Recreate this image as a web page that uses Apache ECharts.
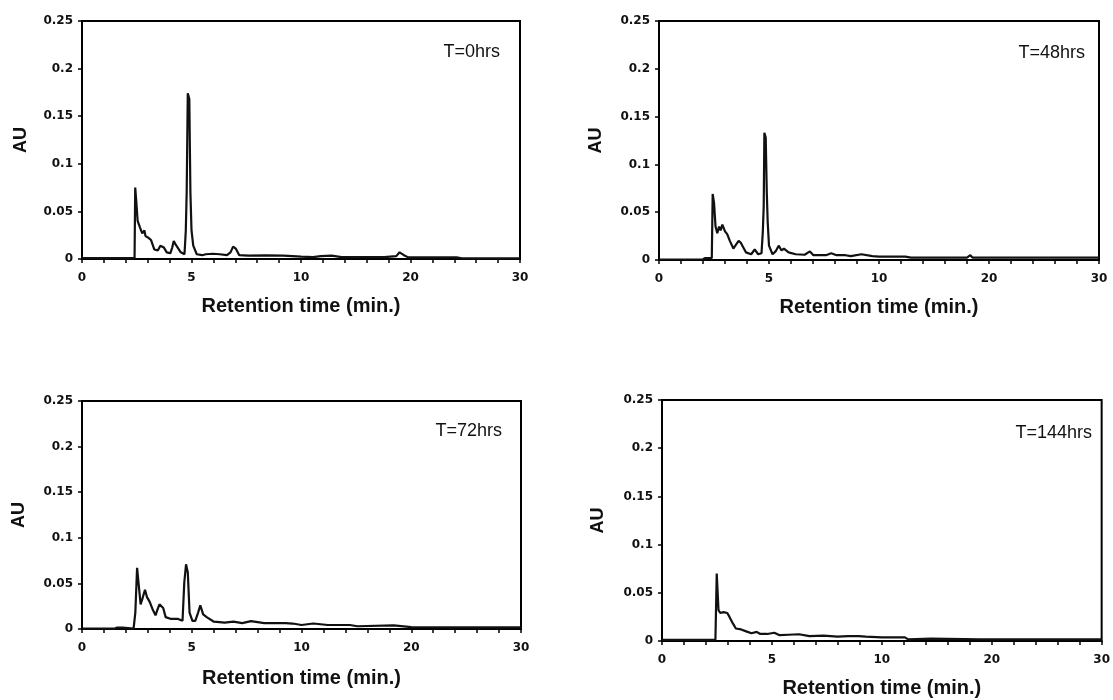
<!DOCTYPE html>
<html>
<head>
<meta charset="utf-8">
<script src="https://cdn.jsdelivr.net/npm/echarts@6/dist/echarts.min.js"></script>
<style>
html,body{margin:0;padding:0;background:#fff;}
#chart{width:1113px;height:700px;}
</style>
</head>
<body>
<div id="chart"></div>
<script>
// Panel labels
const panelLabels = ['T=0hrs', 'T=48hrs', 'T=72hrs', 'T=144hrs'];
// X tick labels (minutes) and Y tick values
const xTickLabels = [0, 5, 10, 20, 30];
const yTicks = [0, 0.05, 0.1, 0.15, 0.2, 0.25];
const xTitle = 'Retention time (min.)';
const yTitle = 'AU';

// Traces: [retention time (min), absorbance (AU)]
const trace0hrs = [[0,0.001],[1,0.001],[2,0.001],[2.40,0.001],[2.43,0.075],[2.48,0.06],[2.54,0.04],[2.6,0.038],[2.65,0.033],[2.75,0.027],[2.85,0.03],[2.9,0.024],[2.97,0.026],[3.05,0.022],[3.15,0.02],[3.3,0.010],[3.46,0.009],[3.58,0.014],[3.74,0.012],[3.87,0.007],[4.03,0.006],[4.12,0.012],[4.19,0.019],[4.28,0.015],[4.35,0.014],[4.51,0.007],[4.68,0.005],[4.74,0.03],[4.78,0.07],[4.83,0.174],[4.9,0.168],[4.95,0.07],[5.0,0.03],[5.08,0.014],[5.24,0.005],[5.49,0.004],[5.65,0.005],[5.97,0.0055],[6.29,0.005],[6.62,0.004],[6.78,0.007],[6.9,0.013],[7.02,0.011],[7.18,0.004],[7.59,0.0035],[8.4,0.0038],[9.2,0.0035],[10,0.0025],[11.1,0.002],[11.8,0.003],[12.8,0.0035],[13.7,0.002],[15,0.002],[17.6,0.002],[18.7,0.003],[19.0,0.007],[19.4,0.004],[19.8,0.0017],[21.4,0.0017],[24.2,0.0017],[24.7,0.0007],[30,0.0007]];
const trace48hrs = [[0,0.0005],[2.0,0.0008],[2.1,0.002],[2.4,0.002],[2.44,0.069],[2.5,0.06],[2.57,0.035],[2.65,0.028],[2.73,0.035],[2.8,0.031],[2.88,0.037],[3.0,0.030],[3.1,0.027],[3.22,0.020],[3.38,0.012],[3.5,0.016],[3.62,0.020],[3.72,0.018],[3.79,0.015],[3.95,0.008],[4.19,0.006],[4.35,0.011],[4.51,0.006],[4.66,0.007],[4.72,0.03],[4.76,0.056],[4.79,0.133],[4.85,0.128],[4.9,0.07],[4.94,0.04],[5.0,0.015],[5.16,0.006],[5.3,0.009],[5.44,0.015],[5.57,0.010],[5.68,0.012],[5.89,0.008],[6.21,0.006],[6.62,0.0055],[6.86,0.009],[7.02,0.005],[7.59,0.005],[7.83,0.007],[8.07,0.005],[8.48,0.005],[8.72,0.004],[9.2,0.006],[9.7,0.004],[10,0.0035],[12.4,0.0035],[12.9,0.0025],[18.0,0.0025],[18.3,0.005],[18.5,0.0025],[30,0.0025]];
const trace72hrs = [[0,0.0005],[1.5,0.0005],[1.6,0.0015],[1.85,0.0015],[1.9,0.0005],[2.35,0.0005],[2.43,0.018],[2.51,0.067],[2.59,0.047],[2.67,0.027],[2.75,0.033],[2.87,0.043],[2.96,0.035],[3.08,0.030],[3.21,0.022],[3.35,0.015],[3.45,0.022],[3.53,0.027],[3.7,0.023],[3.81,0.013],[4.06,0.011],[4.38,0.011],[4.46,0.012],[4.58,0.009],[4.66,0.051],[4.74,0.071],[4.82,0.062],[4.9,0.018],[5.03,0.009],[5.16,0.009],[5.29,0.018],[5.39,0.026],[5.52,0.016],[5.68,0.013],[6.01,0.008],[6.5,0.007],[6.9,0.008],[7.3,0.0065],[7.7,0.0087],[8.3,0.0065],[8.8,0.0065],[9.27,0.0065],[9.6,0.006],[10,0.0044],[11.07,0.006],[12.4,0.0044],[14.4,0.0044],[15.1,0.003],[18.4,0.004],[20,0.002],[25,0.0018],[30,0.0018]];
const trace144hrs = [[0,0.0012],[2.43,0.0012],[2.49,0.070],[2.57,0.032],[2.65,0.029],[2.72,0.030],[2.8,0.030],[2.88,0.032],[2.97,0.029],[3.07,0.025],[3.15,0.026],[3.23,0.018],[3.36,0.013],[3.6,0.012],[3.83,0.010],[4.07,0.008],[4.31,0.0095],[4.47,0.0073],[4.79,0.0073],[5.11,0.0086],[5.35,0.006],[5.75,0.0065],[6.23,0.007],[6.71,0.005],[7.35,0.0055],[7.99,0.0045],[8.47,0.005],[8.95,0.005],[9.27,0.0045],[10,0.0038],[12.1,0.0038],[12.4,0.0017],[14.5,0.0025],[18.9,0.0017],[30,0.0017]];

const traces = [trace0hrs, trace48hrs, trace72hrs, trace144hrs];

// Broken time scale: 0-10 min linear, 10-30 min compressed by half
function toAxis(t){ return t <= 10 ? t : 10 + (t - 10) / 2; }
function fromAxis(v){ return v <= 10 ? v : 10 + (v - 10) * 2; }

const layout = [
  {left: 82, top: 21, width: 438, height: 238, tRight: 608, tTop: 38, yGap: 52, xGap: 37},
  {left: 659, top: 21, width: 440, height: 239, tRight: 23, tTop: 39, yGap: 54, xGap: 37},
  {left: 82, top: 401, width: 439, height: 228, tRight: 606, tTop: 417, yGap: 54, xGap: 39},
  {left: 662, top: 400, width: 441, height: 241, tRight: 16, tTop: 419, yGap: 55, xGap: 37}
];

const tickFont = {fontFamily: 'DejaVu Sans', fontWeight: 'bold', fontSize: 12, color: '#111'};
const grids = [], xAxes = [], yAxes = [], series = [], titles = [];
const xMaxAxis = toAxis(xTickLabels[xTickLabels.length - 1]);

layout.forEach((L, i) => {
  grids.push({left: L.left, top: L.top, width: L.width, height: L.height, show: true, borderColor: '#000', borderWidth: 2, backgroundColor: '#fff'});
  xAxes.push({
    type: 'value', gridIndex: i, min: 0, max: xMaxAxis, interval: 1,
    name: xTitle, nameLocation: 'middle', nameGap: L.xGap,
    nameTextStyle: {fontFamily: 'Liberation Sans', fontWeight: 'bold', fontSize: 20, color: '#111'},
    axisLine: {show: true, onZero: false, lineStyle: {color: '#000', width: 2}},
    axisTick: {show: true, inside: false, length: 4, lineStyle: {color: '#000', width: 1.5}},
    axisLabel: Object.assign({margin: 13, interval: 0, formatter: v => {
      const m = fromAxis(v);
      return xTickLabels.indexOf(m) >= 0 && (v % 5 === 0) ? String(m) : '';
    }}, tickFont),
    splitLine: {show: false}
  });
  yAxes.push({
    type: 'value', gridIndex: i, min: yTicks[0], max: yTicks[yTicks.length - 1], interval: 0.05,
    name: yTitle, nameLocation: 'middle', nameGap: L.yGap, nameRotate: 90,
    nameTextStyle: {fontFamily: 'Liberation Sans', fontWeight: 'bold', fontSize: 18, color: '#111'},
    axisLine: {show: true, lineStyle: {color: '#000', width: 2}},
    axisTick: {show: true, inside: false, length: 4, lineStyle: {color: '#000', width: 1.5}},
    axisLabel: Object.assign({margin: 9, formatter: v => String(+v.toFixed(2))}, tickFont),
    splitLine: {show: false}
  });
  series.push({
    type: 'line', xAxisIndex: i, yAxisIndex: i, showSymbol: false, symbol: 'none',
    lineStyle: {color: '#111', width: 2.2}, animation: false,
    data: traces[i].map(p => [toAxis(p[0]), p[1]])
  });
  titles.push({text: panelLabels[i], right: L.tRight, top: L.tTop,
    textStyle: {fontFamily: 'Liberation Sans', fontWeight: 'normal', fontSize: 18, color: '#111'}});
});

const chart = echarts.init(document.getElementById('chart'), null, {renderer: 'canvas'});
chart.setOption({
  backgroundColor: '#fff',
  animation: false,
  title: titles,
  grid: grids,
  xAxis: xAxes,
  yAxis: yAxes,
  series: series
});
</script>
</body>
</html>
